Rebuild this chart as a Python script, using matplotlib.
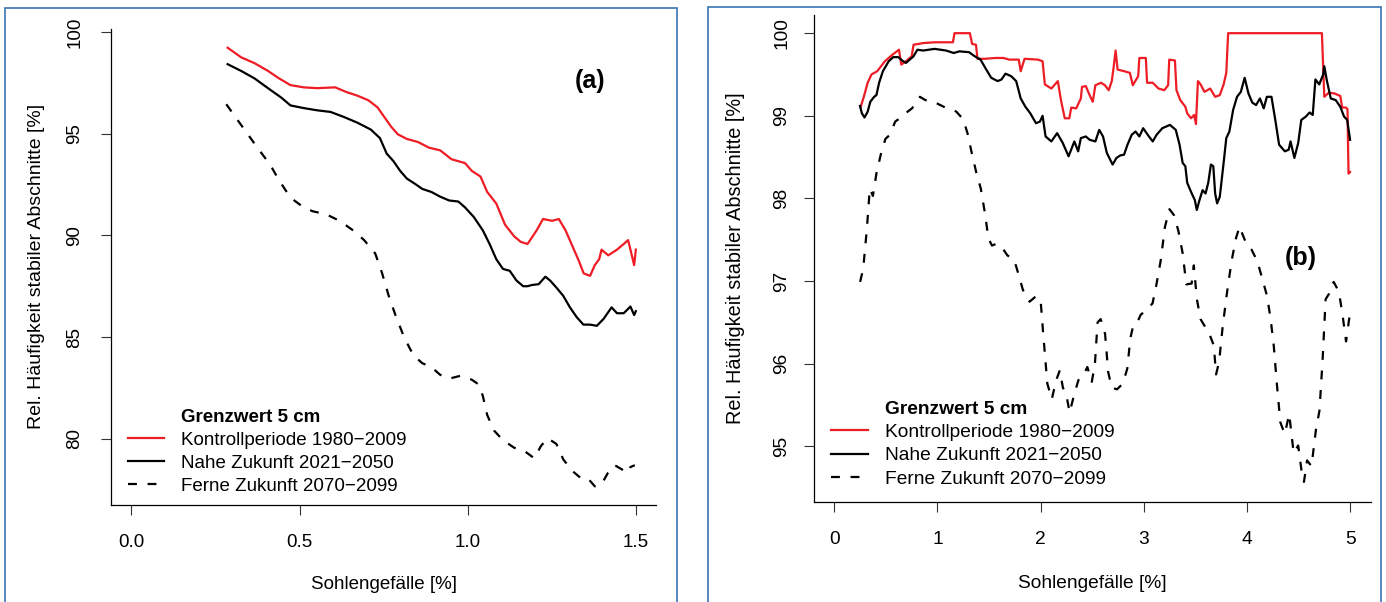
import matplotlib
matplotlib.use("Agg")
import matplotlib.pyplot as plt
from matplotlib.lines import Line2D
from matplotlib.patches import Rectangle

plt.rcParams['font.family'] = ['Liberation Sans', 'DejaVu Sans']

# ---------------- data panel (a) ----------------
a_red_x = [0.286, 0.326, 0.366, 0.406, 0.439, 0.473, 0.512, 0.552, 0.606, 0.639, 0.672, 0.705,
           0.732, 0.752, 0.772, 0.792, 0.819, 0.852, 0.885, 0.918, 0.952, 0.992, 1.012, 1.038,
           1.058, 1.085, 1.111, 1.138, 1.158, 1.178, 1.205, 1.224, 1.251, 1.271, 1.291, 1.311,
           1.331, 1.345, 1.364, 1.378, 1.391, 1.398, 1.418, 1.444, 1.464, 1.477, 1.484, 1.495, 1.500]
a_red_y = [99.24, 98.77, 98.48, 98.10, 97.73, 97.40, 97.29, 97.25, 97.29, 97.06, 96.88, 96.65,
           96.30, 95.83, 95.36, 94.98, 94.75, 94.60, 94.32, 94.19, 93.75, 93.56, 93.18, 92.90,
           92.14, 91.57, 90.53, 89.96, 89.68, 89.58, 90.25, 90.81, 90.72, 90.81, 90.25, 89.49,
           88.73, 88.13, 88.01, 88.54, 88.83, 89.30, 89.02, 89.30, 89.58, 89.77, 89.30, 88.54, 89.30]

a_blk_x = [0.286, 0.326, 0.366, 0.406, 0.446, 0.473, 0.512, 0.552, 0.592, 0.632, 0.672, 0.712,
           0.739, 0.759, 0.779, 0.799, 0.819, 0.845, 0.865, 0.892, 0.918, 0.945, 0.972, 0.992,
           1.018, 1.045, 1.065, 1.085, 1.105, 1.125, 1.145, 1.165, 1.178, 1.191, 1.211, 1.231,
           1.245, 1.265, 1.284, 1.304, 1.324, 1.344, 1.364, 1.384, 1.404, 1.428, 1.444, 1.464,
           1.484, 1.495, 1.500]
a_blk_y = [98.43, 98.10, 97.73, 97.25, 96.78, 96.40, 96.27, 96.16, 96.08, 95.83, 95.55, 95.21,
           94.79, 94.03, 93.66, 93.18, 92.80, 92.52, 92.29, 92.14, 91.91, 91.72, 91.67, 91.38,
           90.91, 90.25, 89.58, 88.83, 88.35, 88.26, 87.78, 87.50, 87.50, 87.56, 87.60, 87.97,
           87.78, 87.41, 87.03, 86.46, 85.98, 85.61, 85.61, 85.55, 85.89, 86.46, 86.17, 86.17,
           86.50, 86.08, 86.27]

a_dash_x = [0.282, 0.313, 0.346, 0.379, 0.413, 0.439, 0.473, 0.512, 0.539, 0.579, 0.619, 0.659,
            0.692, 0.725, 0.745, 0.765, 0.785, 0.812, 0.839, 0.865, 0.892, 0.918, 0.945, 0.978,
            1.012, 1.032, 1.045, 1.058, 1.078, 1.105, 1.138, 1.171, 1.198, 1.218, 1.238, 1.264,
            1.284, 1.311, 1.338, 1.358, 1.378, 1.398, 1.417, 1.437, 1.457, 1.474, 1.484, 1.497]
a_dash_y = [96.46, 95.74, 94.98, 94.22, 93.47, 92.71, 91.86, 91.38, 91.19, 91.04, 90.72, 90.25,
            89.77, 89.11, 88.16, 87.03, 86.08, 84.94, 84.09, 83.71, 83.52, 83.14, 82.95, 83.09,
            82.90, 82.67, 82.10, 81.16, 80.40, 79.92, 79.55, 79.36, 79.03, 79.64, 80.02, 79.73,
            78.98, 78.41, 78.03, 78.03, 77.65, 77.75, 78.31, 78.69, 78.50, 78.31, 78.60, 78.69]

# ---------------- data panel (b) ----------------
b_red_x = [0.256, 0.286, 0.323, 0.360, 0.416, 0.490, 0.564, 0.627, 0.649, 0.694, 0.750, 0.768,
           0.861, 0.972, 1.150, 1.165, 1.314, 1.336, 1.373, 1.388, 1.455, 1.566, 1.640, 1.696,
           1.788, 1.807, 1.844, 1.974, 2.019, 2.041, 2.104, 2.167, 2.197, 2.234, 2.278, 2.297,
           2.345, 2.390, 2.401, 2.438, 2.468, 2.505, 2.531, 2.586, 2.623, 2.660, 2.690, 2.709,
           2.727, 2.746, 2.809, 2.865, 2.894, 2.946, 2.957, 3.020, 3.032, 3.087, 3.143, 3.199,
           3.236, 3.247, 3.302, 3.317, 3.354, 3.403, 3.421, 3.458, 3.488, 3.506, 3.525, 3.551,
           3.588, 3.644, 3.692, 3.737, 3.774, 3.800, 3.818, 4.727, 4.750, 4.794, 4.850, 4.905,
           4.924, 4.960, 4.975, 4.985, 5.000]
b_red_y = [99.11, 99.23, 99.40, 99.50, 99.54, 99.66, 99.74, 99.80, 99.62, 99.66, 99.72, 99.86,
           99.88, 99.89, 99.89, 100.0, 100.0, 99.87, 99.86, 99.69, 99.69, 99.70, 99.70, 99.68,
           99.68, 99.54, 99.69, 99.68, 99.66, 99.38, 99.33, 99.42, 99.19, 98.97, 98.97, 99.10,
           99.09, 99.21, 99.35, 99.36, 99.27, 99.17, 99.37, 99.40, 99.37, 99.31, 99.42, 99.60,
           99.79, 99.56, 99.54, 99.52, 99.37, 99.48, 99.70, 99.70, 99.40, 99.40, 99.33, 99.31,
           99.37, 99.68, 99.67, 99.31, 99.19, 99.11, 99.03, 98.97, 99.01, 98.90, 99.42, 99.38,
           99.29, 99.33, 99.23, 99.25, 99.38, 99.52, 100.0, 100.0, 99.23, 99.28, 99.27, 99.24,
           99.10, 99.10, 99.08, 98.30, 98.32]

b_blk_x = [0.249, 0.267, 0.293, 0.323, 0.349, 0.386, 0.408, 0.434, 0.471, 0.527, 0.571, 0.620,
           0.657, 0.694, 0.731, 0.768, 0.805, 0.861, 0.972, 1.083, 1.158, 1.213, 1.306, 1.362,
           1.417, 1.473, 1.521, 1.584, 1.621, 1.659, 1.714, 1.763, 1.807, 1.852, 1.900, 1.955,
           1.993, 2.019, 2.048, 2.104, 2.160, 2.215, 2.271, 2.327, 2.364, 2.390, 2.438, 2.475,
           2.531, 2.568, 2.605, 2.642, 2.698, 2.735, 2.772, 2.809, 2.842, 2.883, 2.920, 2.957,
           2.994, 3.050, 3.087, 3.124, 3.180, 3.254, 3.310, 3.347, 3.377, 3.403, 3.421, 3.458,
           3.495, 3.514, 3.540, 3.570, 3.599, 3.625, 3.651, 3.674, 3.692, 3.711, 3.737, 3.774,
           3.800, 3.830, 3.866, 3.904, 3.941, 3.978, 4.015, 4.052, 4.089, 4.126, 4.163, 4.193,
           4.238, 4.275, 4.312, 4.368, 4.405, 4.423, 4.460, 4.497, 4.527, 4.571, 4.608, 4.638,
           4.664, 4.701, 4.739, 4.750, 4.776, 4.813, 4.861, 4.905, 4.942, 4.972, 5.000]
b_blk_y = [99.12, 99.03, 98.98, 99.05, 99.17, 99.23, 99.25, 99.40, 99.54, 99.66, 99.71, 99.71,
           99.67, 99.64, 99.68, 99.72, 99.80, 99.79, 99.81, 99.79, 99.76, 99.78, 99.77, 99.72,
           99.68, 99.56, 99.46, 99.42, 99.44, 99.51, 99.48, 99.42, 99.21, 99.11, 99.03, 98.91,
           98.93, 99.00, 98.75, 98.69, 98.79, 98.67, 98.51, 98.69, 98.57, 98.73, 98.75, 98.71,
           98.69, 98.83, 98.75, 98.55, 98.41, 98.49, 98.52, 98.53, 98.65, 98.77, 98.81, 98.75,
           98.85, 98.75, 98.69, 98.77, 98.85, 98.89, 98.83, 98.65, 98.43, 98.39, 98.19, 98.08,
           97.98, 97.86, 97.98, 98.10, 98.06, 98.19, 98.41, 98.39, 98.06, 97.94, 98.02, 98.43,
           98.73, 98.81, 99.07, 99.23, 99.29, 99.46, 99.27, 99.16, 99.13, 99.21, 99.09, 99.23,
           99.23, 98.95, 98.65, 98.57, 98.59, 98.69, 98.49, 98.67, 98.95, 98.99, 99.04, 99.01,
           99.44, 99.38, 99.50, 99.60, 99.42, 99.21, 99.19, 99.11, 98.99, 98.95, 98.71]

b_dash_x = [0.250, 0.280, 0.314, 0.344, 0.374, 0.409, 0.452, 0.495, 0.538, 0.590, 0.645, 0.710,
            0.753, 0.830, 0.882, 0.947, 1.011, 1.076, 1.140, 1.183, 1.248, 1.291, 1.334, 1.377,
            1.420, 1.463, 1.493, 1.528, 1.571, 1.614, 1.678, 1.743, 1.786, 1.829, 1.893, 1.958,
            2.001, 2.022, 2.065, 2.108, 2.151, 2.186, 2.216, 2.250, 2.281, 2.324, 2.366, 2.410,
            2.453, 2.496, 2.526, 2.552, 2.582, 2.625, 2.655, 2.689, 2.741, 2.797, 2.840, 2.870,
            2.896, 2.926, 2.969, 3.033, 3.085, 3.120, 3.163, 3.206, 3.249, 3.292, 3.335, 3.378,
            3.412, 3.464, 3.485, 3.515, 3.550, 3.593, 3.636, 3.679, 3.701, 3.731, 3.765, 3.808,
            3.851, 3.894, 3.929, 3.959, 4.002, 4.045, 4.101, 4.153, 4.195, 4.230, 4.260, 4.290,
            4.324, 4.367, 4.410, 4.453, 4.497, 4.531, 4.553, 4.583, 4.626, 4.669, 4.703, 4.733,
            4.763, 4.798, 4.841, 4.892, 4.927, 4.961, 4.991, 5.000]
b_dash_y = [96.99, 97.15, 97.61, 98.12, 98.03, 98.31, 98.54, 98.72, 98.77, 98.93, 98.98, 99.05,
            99.09, 99.23, 99.19, 99.18, 99.14, 99.10, 99.08, 99.05, 98.96, 98.79, 98.54, 98.31,
            98.12, 97.80, 97.52, 97.43, 97.45, 97.43, 97.31, 97.26, 97.08, 96.89, 96.75, 96.82,
            96.75, 96.41, 95.76, 95.57, 95.80, 95.92, 95.71, 95.62, 95.41, 95.62, 95.80, 95.85,
            95.96, 95.78, 95.99, 96.50, 96.54, 96.36, 95.90, 95.71, 95.69, 95.76, 95.94, 96.31,
            96.45, 96.47, 96.59, 96.66, 96.73, 96.94, 97.24, 97.66, 97.87, 97.80, 97.61, 97.33,
            96.96, 96.97, 97.19, 96.78, 96.54, 96.45, 96.36, 96.22, 95.87, 96.03, 96.45, 96.87,
            97.24, 97.52, 97.66, 97.56, 97.43, 97.38, 97.24, 97.01, 96.82, 96.54, 96.22, 95.76,
            95.29, 95.15, 95.39, 94.92, 95.01, 94.69, 94.57, 94.83, 94.76, 95.20, 95.43, 96.03,
            96.78, 96.85, 96.99, 96.87, 96.59, 96.27, 96.54, 96.59]

a_xticks = [0.0, 0.5, 1.0, 1.5]
a_xticklabels = ['0.0', '0.5', '1.0', '1.5']
a_yticks = [80, 85, 90, 95, 100]
b_xticks = [0, 1, 2, 3, 4, 5]
b_yticks = [95, 96, 97, 98, 99, 100]

series_labels = ['Kontrollperiode 1980\u22122009', 'Nahe Zukunft 2021\u22122050',
                 'Ferne Zukunft 2070\u22122099']
legend_title = 'Grenzwert 5 cm'
xlabel = 'Sohlengef\u00e4lle [%]'
ylabel = 'Rel. H\u00e4ufigkeit stabiler Abschnitte [%]'

RED = '#ee1c25'
LW = 1.6
DASH = (4.0, 4.8)
FS = 13.5

fig = plt.figure(figsize=(13.86, 6.02), dpi=100)
fig.patch.set_facecolor('white')

# blue panel frames
for x0, x1, ytop in [(4.7, 676.7, 8.0), (708.3, 1381.0, 6.7)]:
    fig.patches.append(Rectangle((x0 / 1386, -0.05), (x1 - x0) / 1386, 1 - ytop / 602 + 0.05,
                                 transform=fig.transFigure, fill=False,
                                 edgecolor='#3a74b0', linewidth=1.2, zorder=0))

axA = fig.add_axes([111.3 / 1386, 1 - 505 / 602, (656 - 111.3) / 1386, (505 - 28.85) / 602])
axB = fig.add_axes([813.7 / 1386, 1 - 501.7 / 602, (1370.7 - 813.7) / 1386, (501.7 - 15) / 602])


def style(ax, xlim, ylim, xticks, xticklabels, yticks, ylab_x, xlab_y, fs, ypad, xpad):
    ax.set_xlim(*xlim)
    ax.set_ylim(*ylim)
    for s in ['top', 'right']:
        ax.spines[s].set_visible(False)
    for s in ['left', 'bottom']:
        ax.spines[s].set_linewidth(0.9)
    ax.set_xticks(xticks, xticklabels, fontsize=fs)
    ax.set_yticks(yticks, [str(v) for v in yticks], fontsize=fs, rotation=90, va='center')
    ax.tick_params(axis='both', direction='out', length=7.2, width=0.8, color='#333333')
    ax.tick_params(axis='y', pad=ypad)
    ax.tick_params(axis='x', pad=xpad)
    ax.set_ylabel(ylabel, fontsize=fs + 0.5, va='center', ha='center')
    ax.yaxis.set_label_coords(ylab_x, 0.5)
    ax.set_xlabel(xlabel, fontsize=fs, va='center', ha='center')
    ax.xaxis.set_label_coords(0.5, xlab_y)


def draw(ax, xr, yr, xb, yb, xd, yd):
    ax.plot(xr, yr, color=RED, lw=LW, solid_joinstyle='round')
    ax.plot(xb, yb, color='black', lw=LW, solid_joinstyle='round')
    ax.plot(xd, yd, color='black', lw=LW, dashes=DASH)


def legend(ax, x, y, fs):
    handles = [Line2D([], [], color='none'),
               Line2D([], [], color=RED, lw=LW),
               Line2D([], [], color='black', lw=LW),
               Line2D([], [], color='black', lw=LW, dashes=DASH)]
    labels = [legend_title] + series_labels
    leg = ax.legend(handles, labels, loc='center left', bbox_to_anchor=(x, y),
                    frameon=False, fontsize=fs, handlelength=1.92, handletextpad=0.9,
                    labelspacing=0.31, borderpad=0, borderaxespad=0)
    leg.get_texts()[0].set_fontweight('bold')
    return leg


draw(axA, a_red_x, a_red_y, a_blk_x, a_blk_y, a_dash_x, a_dash_y)
style(axA, (-0.06, 1.56), (76.73, 100.17), a_xticks, a_xticklabels, a_yticks,
      -0.138, -0.168, FS, 13, 14)
legend(axA, 0.0307, 0.112, FS)
axA.text(0.879, 0.891, '(a)', transform=axA.transAxes, fontsize=18, fontweight='bold',
         ha='center', va='center')

draw(axB, b_red_x, b_red_y, b_blk_x, b_blk_y, b_dash_x, b_dash_y)
style(axB, (-0.2, 5.2), (94.33, 100.22), b_xticks, [str(v) for v in b_xticks], b_yticks,
      -0.141, -0.169, FS + 0.3, 9.5, 14)
legend(axB, 0.031, 0.1186, FS + 0.3)
axB.text(0.875, 0.5, '(b)', transform=axB.transAxes, fontsize=18, fontweight='bold',
         ha='center', va='center')

fig.savefig('out.png', dpi=100)
